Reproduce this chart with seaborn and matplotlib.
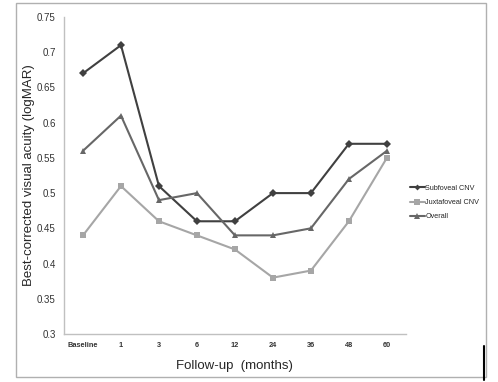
import matplotlib
matplotlib.use("Agg")
import matplotlib.pyplot as plt
import seaborn as sns
import pandas as pd
from matplotlib.patches import Rectangle
from matplotlib.lines import Line2D

categories = ["Baseline", "1", "3", "6", "12", "24", "36", "48", "60"]
subfoveal = [0.67, 0.71, 0.51, 0.46, 0.46, 0.50, 0.50, 0.57, 0.57]
juxtafoveal = [0.44, 0.51, 0.46, 0.44, 0.42, 0.38, 0.39, 0.46, 0.55]
overall = [0.56, 0.61, 0.49, 0.50, 0.44, 0.44, 0.45, 0.52, 0.56]
series_names = ["Subfoveal CNV", "Juxtafoveal CNV", "Overall"]
yticks = [0.3, 0.35, 0.4, 0.45, 0.5, 0.55, 0.6, 0.65, 0.7, 0.75]

sns.set_style("white")
plt.rcParams["font.family"] = ["Liberation Sans", "DejaVu Sans"]

rows = []
for name, vals in zip(series_names, [subfoveal, juxtafoveal, overall]):
    for c, v in zip(categories, vals):
        rows.append({"month": c, "value": v, "series": name})
df = pd.DataFrame(rows)

fig = plt.figure(figsize=(4.98, 3.82), dpi=100)
ax = fig.add_axes([0.1285, 0.1257, 0.6865, 0.8298])

palette = {"Subfoveal CNV": "#404040", "Juxtafoveal CNV": "#a6a6a6", "Overall": "#676767"}
markers = {"Subfoveal CNV": "D", "Juxtafoveal CNV": "s", "Overall": "^"}
sns.lineplot(data=df, x="month", y="value", hue="series", style="series",
             palette=palette, markers=markers, dashes=False, sort=False,
             markersize=5, linewidth=1.5, markeredgewidth=0, ax=ax, legend=False)
for line in ax.lines:
    if line.get_marker() == "D":
        line.set_markersize(3.8)

ax.set_xlim(-0.5, 8.5)
ax.set_ylim(0.3, 0.75)
ax.set_yticks(yticks)
ax.set_yticklabels([f"{t:g}" for t in yticks], fontsize=7, color="#333333")
ax.set_xticks(range(len(categories)))
ax.set_xticklabels(categories, fontsize=5.3, fontweight="bold", color="#333333")
ax.tick_params(axis="both", length=0)
ax.tick_params(axis="y", pad=6)
ax.tick_params(axis="x", pad=6)
for s in ["top", "right"]:
    ax.spines[s].set_visible(False)
for s in ["left", "bottom"]:
    ax.spines[s].set_color("#c0c0c0")
    ax.spines[s].set_linewidth(1)
ax.set_ylabel("Best-corrected visual acuity (logMAR)", fontsize=9.5)
ax.yaxis.set_label_coords(-0.084, 0.5)
ax.set_xlabel("Follow-up  (months)", fontsize=9.5)
ax.xaxis.set_label_coords(0.5, -0.083)
ax.grid(False)

handles = [Line2D([0], [0], color=palette[n], marker=markers[n], markersize=4 if markers[n] != "D" else 3,
                  markeredgewidth=0, linewidth=1.5) for n in series_names]
fig.legend(handles, series_names, loc="upper left", bbox_to_anchor=(0.818, 0.524),
           frameon=False, fontsize=5.2, handlelength=2.0, handletextpad=0.1, labelspacing=1.0,
           borderaxespad=0)

fig.patches.append(Rectangle((16/498, 1-377/382), 470/498, 374/382, transform=fig.transFigure,
                             fill=False, edgecolor="#b0b0b0", linewidth=1))
fig.lines.append(Line2D([484/498, 484/498], [1-380/382, 1-346/382], transform=fig.transFigure,
                        color="black", linewidth=1.5))

fig.savefig("out.png", dpi=100)
